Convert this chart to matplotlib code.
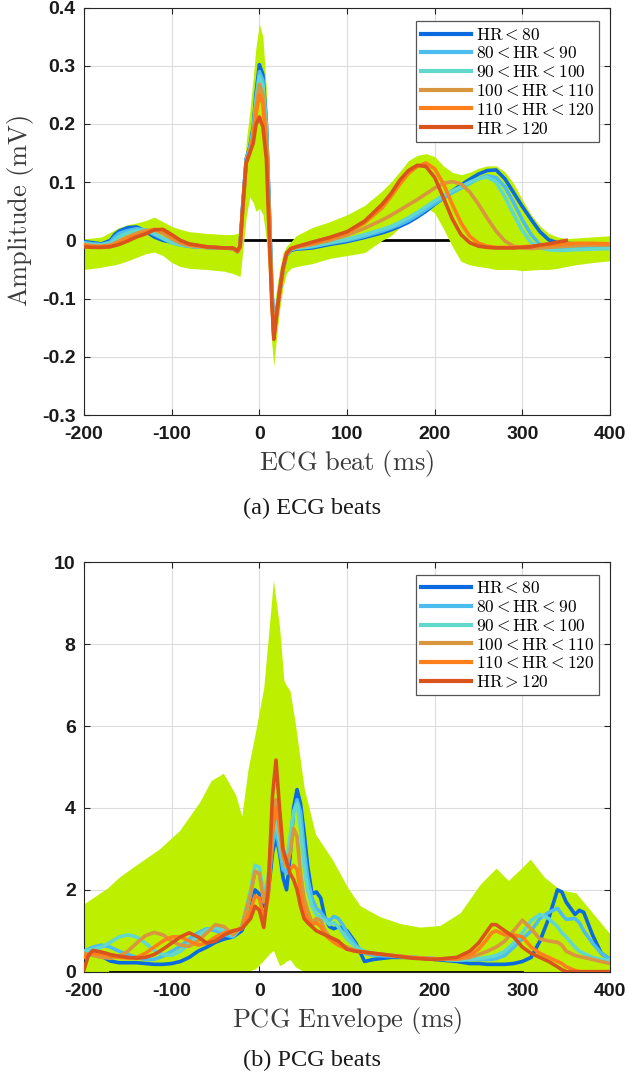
import numpy as np
import matplotlib
matplotlib.use('Agg')
import matplotlib.pyplot as plt

plt.rcParams['mathtext.fontset'] = 'cm'

# ---------------- data ----------------
series_labels = [r'$\mathrm{HR} < 80$', r'$80 < \mathrm{HR} < 90$', r'$90 < \mathrm{HR} < 100$',
                 r'$100 < \mathrm{HR} < 110$', r'$110 < \mathrm{HR} < 120$', r'$\mathrm{HR} > 120$']
series_colors = ['#0a6adf', '#4dbcee', '#62d8cc', '#d8963e', '#ff7f1a', '#d9531c']
band_color = '#bdf000'

x_ticks = [-200, -100, 0, 100, 200, 300, 400]
x_tick_labels = ['-200', '-100', '0', '100', '200', '300', '400']
ecg_y_ticks = [-0.3, -0.2, -0.1, 0, 0.1, 0.2, 0.3, 0.4]
ecg_y_tick_labels = ['-0.3', '-0.2', '-0.1', '0', '0.1', '0.2', '0.3', '0.4']
pcg_y_ticks = [0, 2, 4, 6, 8, 10]
pcg_y_tick_labels = ['0', '2', '4', '6', '8', '10']

# ECG beats (mV)
ecg_ms = [-200, -190, -180, -170, -165, -160, -150, -140, -130, -120, -110, -100,
          -90, -80, -60, -40, -30, -25, -22, -19, -15, -11, -7, -4,
          0, 4, 8, 11, 14, 16.5, 19, 23, 27, 31, 36, 42,
          60, 80, 100, 120, 140, 150, 160, 170, 180, 190, 200, 210,
          220, 230, 240, 250, 260, 270, 280, 290, 300, 310, 320, 330,
          340, 350, 360, 380, 400]
ecg_hr_lt80 = [-0.002, -0.004, -0.006, 0.0, 0.01, 0.016, 0.022, 0.023, 0.016, 0.006, 0.0, -0.003,
               -0.007, -0.01, -0.012, -0.013, -0.014, -0.018, -0.01, 0.06, 0.14, 0.16, 0.195, 0.25,
               0.302, 0.285, 0.2, 0.07, -0.07, -0.155, -0.13, -0.09, -0.05, -0.025, -0.017, -0.015,
               -0.013, -0.007, -0.002, 0.005, 0.013, 0.018, 0.024, 0.031, 0.04, 0.05, 0.062, 0.073,
               0.085, 0.095, 0.105, 0.114, 0.12, 0.121, 0.106, 0.082, 0.058, 0.036, 0.015, 0.001,
               -0.004, -0.005, -0.006, -0.007, -0.008]
ecg_hr_80_90 = [-0.004, -0.006, -0.007, -0.003, 0.006, 0.012, 0.017, 0.02, 0.018, 0.01, 0.003, -0.004,
                -0.008, -0.01, -0.012, -0.013, -0.014, -0.019, -0.011, 0.06, 0.14, 0.158, 0.19, 0.24,
                0.29, 0.275, 0.195, 0.065, -0.075, -0.16, -0.135, -0.09, -0.05, -0.025, -0.016, -0.014,
                -0.011, -0.005, 0.0, 0.007, 0.016, 0.021, 0.027, 0.034, 0.043, 0.053, 0.063, 0.073,
                0.082, 0.09, 0.098, 0.106, 0.111, 0.108, 0.092, 0.065, 0.035, 0.01, -0.007, -0.014,
                -0.016, -0.016, -0.015, -0.013, -0.012]
ecg_hr_90_100 = [-0.005, -0.007, -0.008, -0.005, 0.0, 0.006, 0.013, 0.017, 0.018, 0.012, 0.004, -0.004,
                 -0.008, -0.01, -0.012, -0.013, -0.014, -0.02, -0.012, 0.055, 0.135, 0.155, 0.185, 0.235,
                 0.282, 0.265, 0.19, 0.06, -0.08, -0.162, -0.137, -0.09, -0.05, -0.024, -0.015, -0.013,
                 -0.01, -0.004, 0.002, 0.01, 0.019, 0.024, 0.031, 0.039, 0.048, 0.058, 0.068, 0.077,
                 0.085, 0.092, 0.1, 0.106, 0.109, 0.1, 0.075, 0.045, 0.017, -0.004, -0.013, -0.016,
                 -0.017, -0.017, -0.016, -0.015, -0.014]
ecg_hr_100_110 = [-0.007, -0.009, -0.01, -0.008, -0.005, -0.001, 0.006, 0.012, 0.017, 0.018, 0.012, 0.003,
                  -0.005, -0.009, -0.012, -0.013, -0.014, -0.02, -0.012, 0.055, 0.135, 0.152, 0.18, 0.225,
                  0.268, 0.25, 0.175, 0.05, -0.085, -0.165, -0.138, -0.09, -0.05, -0.024, -0.015, -0.012,
                  -0.007, 0.0, 0.009, 0.021, 0.035, 0.043, 0.052, 0.061, 0.07, 0.08, 0.09, 0.098,
                  0.101, 0.097, 0.083, 0.062, 0.038, 0.016, -0.001, -0.01, -0.013, -0.014, -0.013, -0.012,
                  -0.011, -0.01, -0.009, -0.008, -0.008]
ecg_hr_110_120 = [-0.009, -0.011, -0.011, -0.009, -0.007, -0.004, 0.003, 0.008, 0.013, 0.019, 0.017, 0.008,
                  -0.001, -0.007, -0.011, -0.013, -0.014, -0.019, -0.012, 0.055, 0.133, 0.15, 0.175, 0.215,
                  0.25, 0.235, 0.16, 0.04, -0.09, -0.167, -0.135, -0.088, -0.048, -0.023, -0.014, -0.011,
                  -0.005, 0.003, 0.013, 0.03, 0.056, 0.075, 0.096, 0.115, 0.127, 0.133, 0.123, 0.097,
                  0.062, 0.03, 0.007, -0.005, -0.01, -0.012, -0.012, -0.012, -0.011, -0.01, -0.009, -0.008,
                  -0.007, -0.006, -0.005, -0.005, -0.006]
ecg_hr_gt120 = [-0.011, -0.012, -0.012, -0.011, -0.009, -0.007, -0.001, 0.006, 0.011, 0.018, 0.019, 0.01,
                0.0, -0.006, -0.011, -0.013, -0.013, -0.018, -0.01, 0.055, 0.133, 0.15, 0.167, 0.198,
                0.212, 0.195, 0.14, 0.02, -0.1, -0.17, -0.135, -0.088, -0.047, -0.022, -0.014, -0.011,
                -0.003, 0.005, 0.015, 0.033, 0.062, 0.08, 0.103, 0.12, 0.129, 0.127, 0.108, 0.073,
                0.037, 0.01, -0.004, -0.01, -0.012, -0.013, -0.013, -0.013, -0.012, -0.011, -0.008, -0.006,
                -0.003, 0.0, np.nan, np.nan, np.nan]
ecg_band_hi = [0.003, 0.004, 0.006, 0.014, 0.018, 0.022, 0.027, 0.03, 0.034, 0.04, 0.032, 0.024,
               0.019, 0.015, 0.012, 0.01, 0.01, 0.012, 0.016, 0.08, 0.17, 0.22, 0.28, 0.33,
               0.372, 0.35, 0.26, 0.13, -0.03, -0.12, -0.09, -0.05, -0.022, -0.01, -0.002, 0.008,
               0.022, 0.032, 0.044, 0.06, 0.085, 0.1, 0.118, 0.137, 0.146, 0.149, 0.144, 0.128,
               0.117, 0.113, 0.117, 0.124, 0.128, 0.128, 0.118, 0.098, 0.07, 0.044, 0.025, 0.012,
               0.006, 0.003, 0.004, 0.006, 0.008]
ecg_band_lo = [-0.05, -0.048, -0.046, -0.043, -0.042, -0.04, -0.035, -0.029, -0.023, -0.02, -0.026, -0.038,
               -0.045, -0.048, -0.05, -0.053, -0.057, -0.06, -0.062, -0.02, 0.04, 0.075, 0.065, 0.05,
               0.055, 0.045, 0.0, -0.07, -0.175, -0.216, -0.175, -0.12, -0.08, -0.056, -0.048, -0.045,
               -0.04, -0.031, -0.026, -0.021, 0.0, 0.008, 0.022, 0.04, 0.052, 0.057, 0.047, 0.02,
               -0.01, -0.036, -0.042, -0.045, -0.047, -0.05, -0.05, -0.05, -0.052, -0.051, -0.05, -0.05,
               -0.048, -0.045, -0.042, -0.038, -0.035]
ecg_zero_ms = [-17, 220]

# PCG envelope
pcg_ms = [-200, -195, -190, -180, -170, -160, -150, -140, -130, -120, -110, -100,
          -90, -80, -70, -60, -50, -40, -30, -20, -10, -5, 0, 5,
          10, 15, 19, 23, 27, 31, 35, 39, 43, 47, 51, 55,
          60, 65, 70, 75, 80, 85, 90, 95, 100, 110, 120, 130,
          150, 175, 200, 225, 240, 250, 260, 265, 270, 280, 290, 300,
          310, 320, 330, 340, 345, 350, 360, 365, 370, 380, 390, 400]
pcg_hr_lt80 = [0.4, 0.42, 0.42, 0.38, 0.26, 0.22, 0.22, 0.22, 0.2, 0.18, 0.18, 0.2,
               0.25, 0.35, 0.5, 0.6, 0.72, 0.8, 0.85, 1.0, 1.5, 2.0, 1.9, 1.6,
               1.9, 2.9, 3.3, 2.9, 2.3, 2.0, 2.8, 4.0, 4.45, 4.1, 3.4, 2.6,
               1.9, 1.95, 1.8, 1.3, 1.1, 1.05, 1.1, 1.05, 1.0, 0.7, 0.25, 0.3,
               0.35, 0.35, 0.3, 0.25, 0.2, 0.2, 0.18, 0.18, 0.18, 0.18, 0.2, 0.25,
               0.35, 0.75, 1.3, 2.0, 1.95, 1.7, 1.4, 1.5, 1.45, 0.9, 0.45, 0.3]
pcg_hr_80_90 = [0.5, 0.55, 0.6, 0.65, 0.6, 0.5, 0.42, 0.35, 0.3, 0.3, 0.38, 0.5,
                0.62, 0.8, 0.95, 1.05, 1.0, 0.9, 0.85, 1.1, 1.9, 2.45, 2.4, 1.8,
                2.1, 3.1, 3.5, 3.0, 2.5, 2.4, 3.0, 3.9, 4.2, 3.9, 3.0, 2.3,
                1.8, 1.55, 1.45, 1.3, 1.25, 1.35, 1.3, 1.15, 0.95, 0.65, 0.45, 0.4,
                0.38, 0.35, 0.32, 0.28, 0.3, 0.3, 0.3, 0.3, 0.32, 0.4, 0.6, 0.8,
                1.0, 1.3, 1.45, 1.55, 1.4, 1.28, 1.3, 1.2, 1.0, 0.7, 0.45, 0.3]
pcg_hr_90_100 = [0.5, 0.52, 0.55, 0.6, 0.72, 0.85, 0.9, 0.85, 0.7, 0.52, 0.42, 0.4,
                 0.5, 0.68, 0.88, 1.02, 1.08, 1.0, 0.88, 1.1, 2.0, 2.6, 2.55, 1.9,
                 2.3, 3.3, 3.7, 3.2, 2.7, 2.7, 3.3, 3.9, 4.1, 3.5, 2.6, 2.0,
                 1.6, 1.4, 1.3, 1.25, 1.15, 1.2, 1.1, 0.95, 0.8, 0.6, 0.5, 0.45,
                 0.4, 0.35, 0.32, 0.28, 0.3, 0.32, 0.35, 0.37, 0.4, 0.5, 0.7, 0.95,
                 1.25, 1.4, 1.3, 1.1, 0.95, 0.85, 0.6, 0.5, 0.45, 0.35, 0.3, 0.28]
pcg_hr_100_110 = [0.45, 0.42, 0.4, 0.35, 0.33, 0.38, 0.5, 0.7, 0.88, 0.96, 0.9, 0.75,
                  0.65, 0.62, 0.75, 0.95, 1.15, 1.1, 0.9, 1.1, 1.9, 2.45, 2.4, 1.7,
                  2.2, 3.7, 4.2, 3.5, 2.8, 2.6, 2.9, 3.5, 3.3, 2.4, 1.8, 1.5,
                  1.2, 1.3, 1.25, 1.0, 0.85, 0.75, 0.7, 0.65, 0.6, 0.52, 0.48, 0.45,
                  0.4, 0.35, 0.32, 0.3, 0.35, 0.42, 0.5, 0.55, 0.6, 0.75, 1.0, 1.26,
                  1.05, 0.8, 0.75, 0.72, 0.65, 0.5, 0.4, 0.37, 0.35, 0.3, 0.25, 0.2]
pcg_hr_110_120 = [0.35, 0.42, 0.45, 0.42, 0.38, 0.35, 0.33, 0.35, 0.45, 0.6, 0.75, 0.85,
                  0.85, 0.75, 0.65, 0.7, 0.85, 0.95, 1.0, 1.05, 1.5, 1.85, 1.8, 1.3,
                  1.8, 3.4, 4.0, 3.6, 2.9, 2.6, 2.5, 2.6, 2.5, 1.9, 1.5, 1.3,
                  1.15, 1.2, 1.1, 0.9, 0.8, 0.72, 0.65, 0.6, 0.55, 0.5, 0.47, 0.45,
                  0.4, 0.34, 0.31, 0.32, 0.4, 0.55, 0.8, 0.95, 1.0, 0.9, 0.9, 0.85,
                  0.6, 0.45, 0.35, 0.25, 0.2, 0.12, 0.03, 0.0, 0.0, 0.0, 0.0, 0.0]
pcg_hr_gt120 = [0.05, 0.4, 0.52, 0.48, 0.42, 0.38, 0.35, 0.33, 0.35, 0.42, 0.55, 0.7,
                0.85, 0.95, 0.85, 0.7, 0.75, 0.9, 1.0, 1.05, 1.3, 1.6, 1.5, 1.08,
                2.0, 4.3, 5.17, 4.0, 3.0, 2.7, 2.4, 2.25, 2.0, 1.6, 1.3, 1.2,
                1.1, 1.0, 0.95, 0.9, 0.85, 0.8, 0.75, 0.65, 0.55, 0.5, 0.48, 0.45,
                0.4, 0.33, 0.3, 0.35, 0.5, 0.7, 1.0, 1.15, 1.15, 1.0, 0.85, 0.6,
                0.45, 0.35, 0.25, 0.12, 0.05, 0.0, 0.0, 0.0, 0.0, 0.0, 0.0, 0.0]
pcg_band_ms = [-200, -173, -160, -137, -114, -91, -68, -55, -41, -27, -20, -13, -4, 5, 12,
               16, 23, 28, 30, 35, 41, 51, 64, 83, 101, 115, 137, 160, 183, 206,
               229, 252, 270, 284, 297, 309, 325, 343, 361, 380, 400]
pcg_band_hi = [1.66, 2.05, 2.31, 2.66, 3.0, 3.45, 4.15, 4.67, 4.85, 4.32, 3.8, 4.94, 5.9, 6.94, 8.6,
               9.57, 8.43, 7.12, 7.03, 6.86, 6.07, 4.5, 3.36, 2.75, 2.05, 1.61, 1.35, 1.18, 1.09, 1.13,
               1.44, 2.14, 2.53, 2.23, 2.49, 2.75, 2.31, 2.0, 1.93, 1.44, 0.92]
pcg_band_lo = [0.0, 0.0, 0.0, 0.0, 0.0, 0.0, 0.0, 0.0, 0.0, 0.0, 0.0, 0.0, 0.08, 0.28, 0.45,
               0.52, 0.15, 0.2, 0.25, 0.3, 0.12, 0.0, 0.0, 0.0, 0.0, 0.0, 0.0, 0.0, 0.0, 0.0,
               0.0, 0.0, 0.0, 0.0, 0.0, 0.0, 0.0, 0.0, 0.0, 0.0, 0.0]
pcg_zero_ms = [-170, 300]

ecg_series = [ecg_hr_lt80, ecg_hr_80_90, ecg_hr_90_100, ecg_hr_100_110, ecg_hr_110_120, ecg_hr_gt120]
pcg_series = [pcg_hr_lt80, pcg_hr_80_90, pcg_hr_90_100, pcg_hr_100_110, pcg_hr_110_120, pcg_hr_gt120]

# ---------------- figure ----------------
fig = plt.figure(figsize=(6.28, 10.78), dpi=100)
ax1 = fig.add_axes([0.1338, 0.615, 0.8376, 0.378])
ax2 = fig.add_axes([0.1338, 0.0986, 0.8376, 0.3797])

tick_font = dict(family='Liberation Sans', weight='bold', size=14)
label_color = '#3a3a3a'


def style_axes(ax, yticks, ylabels, ylim):
    ax.set_xlim(-200, 400)
    ax.set_ylim(*ylim)
    ax.set_xticks(x_ticks)
    ax.set_xticklabels(x_tick_labels, fontdict=tick_font)
    ax.set_yticks(yticks)
    ax.set_yticklabels(ylabels, fontdict=tick_font)
    ax.grid(True, color='#dcdcdc', linewidth=0.8)
    ax.set_axisbelow(True)
    ax.tick_params(direction='in', top=True, right=True, length=4, width=0.8,
                   color='#262626', labelcolor='#1a1a1a')
    ax.tick_params(axis='x', pad=8)
    ax.tick_params(axis='y', pad=6)
    for s in ax.spines.values():
        s.set_color('#262626')
        s.set_linewidth(0.8)


# ECG panel
ax1.plot(ecg_zero_ms, [0, 0], color='k', linewidth=2.0, zorder=1)
ax1.fill_between(ecg_ms, ecg_band_lo, ecg_band_hi, color=band_color, linewidth=0, zorder=2)
for ys, c, lab in zip(ecg_series, series_colors, series_labels):
    ax1.plot(ecg_ms, ys, color=c, linewidth=2.6, label=lab, zorder=3)
style_axes(ax1, ecg_y_ticks, ecg_y_tick_labels, (-0.3, 0.4))
ax1.set_xlabel(r'$\mathrm{ECG\ beat\ (ms)}$', fontsize=19, color=label_color)
ax1.xaxis.set_label_coords(0.5, -48 / 407.7)
ax1.xaxis.label.set_va('center')
ax1.set_ylabel(r'$\mathrm{Amplitude\ (mV)}$', fontsize=19, color=label_color)
ax1.yaxis.set_label_coords(-0.1217, 0.5)
ax1.yaxis.label.set_va('center')

# PCG panel
ax2.fill_between(pcg_band_ms, pcg_band_lo, pcg_band_hi, color=band_color, linewidth=0, zorder=2)
ax2.plot(pcg_zero_ms, [0, 0], color='k', linewidth=2.0, zorder=2.5)
for ys, c, lab in zip(pcg_series, series_colors, series_labels):
    ax2.plot(pcg_ms, ys, color=c, linewidth=2.6, label=lab, zorder=3)
style_axes(ax2, pcg_y_ticks, pcg_y_tick_labels, (0, 10))
ax2.set_xlabel(r'$\mathrm{PCG\ Envelope\ (ms)}$', fontsize=19, color=label_color)
ax2.xaxis.set_label_coords(0.5, -48.3 / 409)
ax2.xaxis.label.set_va('center')

for ax, anchor in ((ax1, (0.979, 0.966)), (ax2, (0.979, 0.969))):
    leg = ax.legend(loc='upper right', bbox_to_anchor=anchor, borderaxespad=0,
                    prop={'size': 12.5}, handlelength=2.9, handletextpad=0.3,
                    labelspacing=0.04, borderpad=0.25, fancybox=False, framealpha=1)
    leg.get_frame().set_edgecolor('#555555')
    leg.get_frame().set_linewidth(0.9)
    for ln in leg.get_lines():
        ln.set_linewidth(3.0)

fig.text(0.4976, 0.5288, '(a) ECG beats', ha='center', va='center',
         family='Liberation Serif', fontsize=17.5, color='#1a1a1a')
fig.text(0.4976, 0.0167, '(b) PCG beats', ha='center', va='center',
         family='Liberation Serif', fontsize=17.5, color='#1a1a1a')

fig.savefig('out.png', dpi=100)
